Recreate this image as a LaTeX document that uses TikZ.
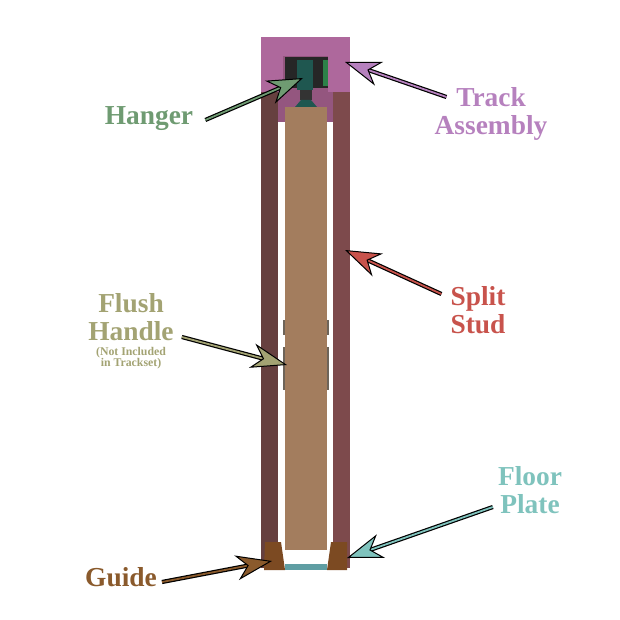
\documentclass[tikz,border=0pt]{standalone}
\usepackage{fontspec}
\setmainfont{Liberation Serif}
\usepackage{xcolor}
\usetikzlibrary{%
  arrows.meta%
}
\definecolor{studL}{HTML}{66403F}
\definecolor{studR}{HTML}{7D4A4C}
\definecolor{headPink}{HTML}{AE689C}
\definecolor{headDark}{HTML}{94567F}
\definecolor{doorTan}{HTML}{A37D5E}
\definecolor{guideBrown}{HTML}{7C4A22}
\definecolor{plateTeal}{HTML}{5F9EA3}
\definecolor{hangerTeal}{HTML}{1F5750}
\definecolor{handleGray}{HTML}{6E6459}
\definecolor{txtHanger}{HTML}{6F9B72}
\definecolor{txtTrack}{HTML}{B681BE}
\definecolor{txtStud}{HTML}{C8534C}
\definecolor{txtHandle}{HTML}{A3A373}
\definecolor{txtPlate}{HTML}{7FC3BD}
\definecolor{txtGuide}{HTML}{8A5A2C}
\newcommand{\smalltxt}[1]{\fontsize{11.8}{10.5}\selectfont #1}
\tikzset{
  partlabel/.style = {font=\bfseries\fontsize{27.4}{28.5}\selectfont, align=center, inner sep=0pt},
  callout/.style = {draw=black, line width=1.2pt, double=#1, double distance=1.8pt,
    -{Stealth[length=36pt, width=25pt, inset=11pt, fill=#1, line width=1pt]}}
}
\begin{document}
\begin{tikzpicture}[x=1pt, y=-1pt]
  \useasboundingbox (0,0) rectangle (620,620);

  % track assembly
  \fill[headDark] (261,37) rectangle (350,122);
  \fill[headPink] (261,37) rectangle (283,92);
  \fill[headPink] (283,37) rectangle (328,56);
  \fill[headPink] (328,37) rectangle (350,92);

  % studs
  \fill[studL] (261,92) rectangle (278,568);
  \fill[studR] (333,92) rectangle (350,568);

  % hanger
  \fill[black!85] (285,57) rectangle (328,88);
  \fill[hangerTeal] (297,60) rectangle (313,90);
  \fill[hangerTeal!75!green!80!gray] (323,60) rectangle (328,86);
  \fill[black!80] (300,90) rectangle (312,100);
  \fill[hangerTeal] (295,107) -- (301,100) -- (311,100) -- (317,107) -- cycle;

  % door and handle
  \fill[handleGray] (283,320) rectangle (287,335);
  \fill[handleGray] (283,347) rectangle (287,390);
  \fill[handleGray] (325,320) rectangle (329,335);
  \fill[handleGray] (325,347) rectangle (329,390);
  \fill[doorTan] (285,107) rectangle (327,550);

  % floor guides and plate
  \fill[guideBrown] (265,542) -- (281,542) -- (285,570) -- (264,570) -- cycle;
  \fill[guideBrown] (331,542) -- (347,542) -- (347,570) -- (327,570) -- cycle;
  \fill[plateTeal] (285,564) rectangle (327,570);

  % labels
  \node[partlabel, text=txtHanger] (lblHanger) at (149,119) {Hanger};
  \node[partlabel, text=txtTrack] (lblTrack) at (491,114) {Track\\Assembly};
  \node[partlabel, text=txtStud] (lblStud) at (478,310) {Split\\Stud};
  \node[partlabel, text=txtHandle] (lblHandle) at (131,331) {Flush\\Handle\\[-14pt]%
    \smalltxt{(Not Included}\\[-17pt]\smalltxt{in Trackset)}};
  \node[partlabel, text=txtPlate] (lblPlate) at (530,490) {Floor\\Plate};
  \node[partlabel, text=txtGuide] (lblGuide) at (121,577) {Guide};

  % arrow ends
  \coordinate (tipHanger) at (303,78);
  \coordinate (tipTrack) at (345,62);
  \coordinate (tipStud) at (345,250);
  \coordinate (tipHandle) at (287,365);
  \coordinate (tipPlate) at (347,558);
  \coordinate (tipGuide) at (272,561);

  % callouts
  \draw[callout=txtHanger] ([xshift=12pt,yshift=-1pt]lblHanger.east) -- (tipHanger);
  \draw[callout=txtTrack] ([xshift=12pt,yshift=17pt]lblTrack.west) -- (tipTrack);
  \draw[callout=txtStud] ([xshift=-9pt,yshift=16pt]lblStud.west) -- (tipStud);
  \draw[callout=txtHandle] ([xshift=8pt,yshift=-6pt]lblHandle.east) -- (tipHandle);
  \draw[callout=txtPlate] ([xshift=-5pt,yshift=-17pt]lblPlate.west) -- (tipPlate);
  \draw[callout=txtGuide] ([xshift=5pt,yshift=-5pt]lblGuide.east) -- (tipGuide);
\end{tikzpicture}
\end{document}
